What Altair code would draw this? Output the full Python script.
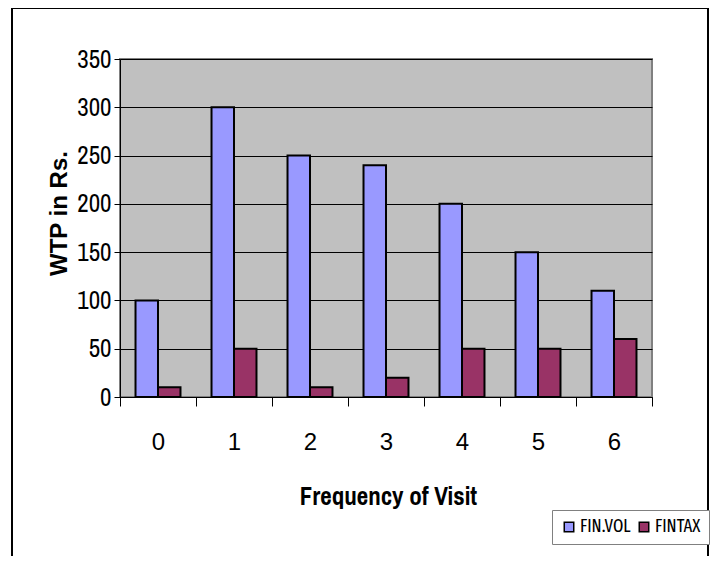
import altair as alt
import pandas as pd

visits = ["0", "1", "2", "3", "4", "5", "6"]
finvol = [100, 300, 250, 240, 200, 150, 110]
fintax = [10, 50, 10, 20, 50, 50, 60]
series = ["FIN.VOL", "FINTAX"]
colors = ["#9999FF", "#993366"]
yticks = [0, 50, 100, 150, 200, 250, 300, 350]

rows = []
for i, v in enumerate(visits):
    rows.append({"visit": v, "series": series[0], "wtp": finvol[i]})
    rows.append({"visit": v, "series": series[1], "wtp": fintax[i]})
df = pd.DataFrame(rows)

NARROW = "Archivo Narrow"
XCOND = "Fira Sans Extra Condensed"

border = alt.Chart(alt.Data(values=[{"a": 1}])).mark_rect(
    fill="transparent", stroke="black", strokeWidth=2
).encode(
    x=alt.value(-108), x2=alt.value(588), y=alt.value(-51), y2=alt.value(530)
)

bars = alt.Chart(df).mark_bar(stroke="black", strokeWidth=2).encode(
    x=alt.X(
        "visit:N", sort=visits,
        scale=alt.Scale(paddingInner=0, paddingOuter=0),
        axis=alt.Axis(
            title="Frequency of Visit", labelAngle=0, tickBand="extent",
            tickSize=9, tickColor="black", domainColor="black",
            labelFont="Liberation Sans", labelFontSize=24, labelPadding=24,
            labelColor="black",
            titleFont=NARROW, titleFontSize=25, titleFontWeight="bold",
            titleColor="black", titleX=268, titleY=99, titleBaseline="middle",
            titleAlign="center", grid=False,
        ),
    ),
    xOffset=alt.XOffset(
        "series:N", sort=series,
        scale=alt.Scale(paddingInner=0, paddingOuter=0.69),
    ),
    y=alt.Y(
        "wtp:Q",
        scale=alt.Scale(domain=[0, 350], nice=False),
        axis=alt.Axis(
            values=yticks, title="WTP in Rs.", tickSize=6, tickColor="black",
            domainColor="black", labelFont=NARROW, labelFontSize=25,
            labelPadding=3, labelColor="black",
            titleFont="Liberation Sans", titleFontSize=24, titleFontWeight="bold",
            titleColor="black", titleX=-61, titleY=154, titleAngle=270,
            titleAlign="center", titleBaseline="middle",
            grid=True, gridColor="black", gridWidth=1,
        ),
    ),
    color=alt.Color(
        "series:N", sort=series,
        scale=alt.Scale(domain=series, range=colors),
        legend=alt.Legend(
            title=None, orient="none", legendX=432, legendY=451,
            direction="horizontal", symbolType="square", symbolSize=90,
            symbolStrokeColor="black", symbolStrokeWidth=1.5,
            labelFont=XCOND, labelFontSize=18, labelColor="black",
            strokeColor="#808080", padding=8, fillColor="white",
            columnPadding=4, labelOffset=2,
        ),
    ),
)

chart = alt.layer(border, bars).properties(
    width=532, height=338,
    autosize=alt.AutoSizeParams(type="none"),
    padding={"left": 112, "top": 51, "right": 64, "bottom": 159},
    background="white",
).configure_view(fill="#C0C0C0", stroke="#808080", strokeWidth=2)

chart.save("out.html", embed_options={"renderer": "svg", "actions": False})
